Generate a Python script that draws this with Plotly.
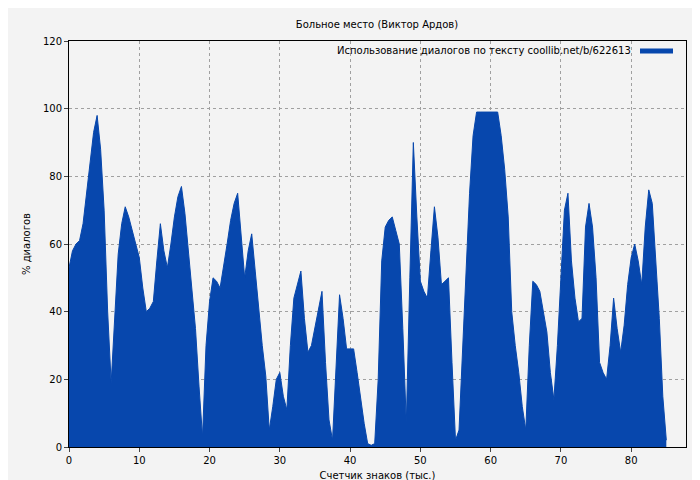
import plotly.graph_objects as go

x_vals = [i * 0.5 for i in range(171)]
y_vals = [53, 58, 60, 61, 66, 75, 84, 93, 98, 88, 70, 40, 19, 38, 57, 66, 71, 68, 64, 60,
          56, 47, 40, 41, 43, 55, 66, 58, 53, 60, 68, 74, 77, 69, 58, 48, 35, 18, 3, 30,
          43, 50, 49, 47, 53, 60, 67, 72, 75, 62, 50, 58, 63, 52, 40, 30, 21, 5, 12, 20,
          22, 15, 11, 30, 44, 48, 52, 38, 28, 30, 35, 41, 46, 25, 8, 2, 25, 45, 38, 29,
          29, 29, 22, 14, 7, 1, 0.5, 1, 20, 55, 65, 67, 68, 64, 60, 35, 7, 50, 90, 68,
          49, 46, 44, 58, 71, 62, 48, 49, 50, 25, 2, 5, 30, 55, 75, 92, 99, 99, 99, 99,
          99, 99, 99, 92, 82, 68, 40, 30, 22, 12, 5, 30, 49, 48, 46, 40, 34, 22, 14, 30,
          50, 70, 75, 55, 44, 37, 38, 65, 72, 65, 50, 25, 22, 20, 30, 44, 35, 28, 36, 48,
          56, 60, 55, 48, 65, 76, 72, 55, 38, 15, 2]

title = "Больное место (Виктор Ардов)"
series_name = "Использование диалогов по тексту coollib.net/b/622613"
x_title = "Счетчик знаков (тыс.)"
y_title = "% диалогов"

fig = go.Figure()
fig.add_trace(go.Scatter(x=x_vals, y=y_vals, mode="lines", line=dict(color="#0747ad", width=1),
                         fill="tozeroy", fillcolor="#0747ad", name=series_name, showlegend=False))
grid = dict(showgrid=True, gridcolor="#a0a0a0", griddash="dot", gridwidth=1, showline=True,
            linecolor="black", mirror=True, ticks="outside", ticklen=4, zeroline=False,
            automargin=False)
# plot area: x 61..678, y 33..439 in a 700x480 page
W, H = 700, 480
L, R, T, B = 61, 22, 33, 41
pw, ph = W - L - R, H - T - B
fig.update_layout(
    width=W, height=H, paper_bgcolor="#f3f3f3", plot_bgcolor="#f3f3f3",
    font=dict(family="DejaVu Sans", size=10, color="black"),
    title=dict(text=title, x=(369 - L) / pw * 0 + 369 / W, y=1 - 16 / H, xanchor="center",
               yanchor="middle", font=dict(size=10)),
    margin=dict(l=L, r=R, t=T, b=B, autoexpand=False),
    showlegend=False,
    xaxis=dict(range=[0, 87.8], dtick=10, title=dict(text=x_title, standoff=6, font=dict(size=10)), **grid),
    yaxis=dict(range=[0, 120], dtick=20, title=dict(text=y_title, standoff=10, font=dict(size=10)), **grid),
)
fig.add_annotation(xref="paper", yref="paper", x=(625 - L) / pw, y=1 - (43 - T) / ph,
                   xanchor="right", yanchor="middle", text=series_name, showarrow=False,
                   font=dict(size=10))
fig.add_shape(type="line", xref="paper", yref="paper", x0=(632 - L) / pw, x1=(665 - L) / pw,
              y0=1 - (43 - T) / ph, y1=1 - (43 - T) / ph, line=dict(color="#0747ad", width=5))
fig.write_html("out.html")
